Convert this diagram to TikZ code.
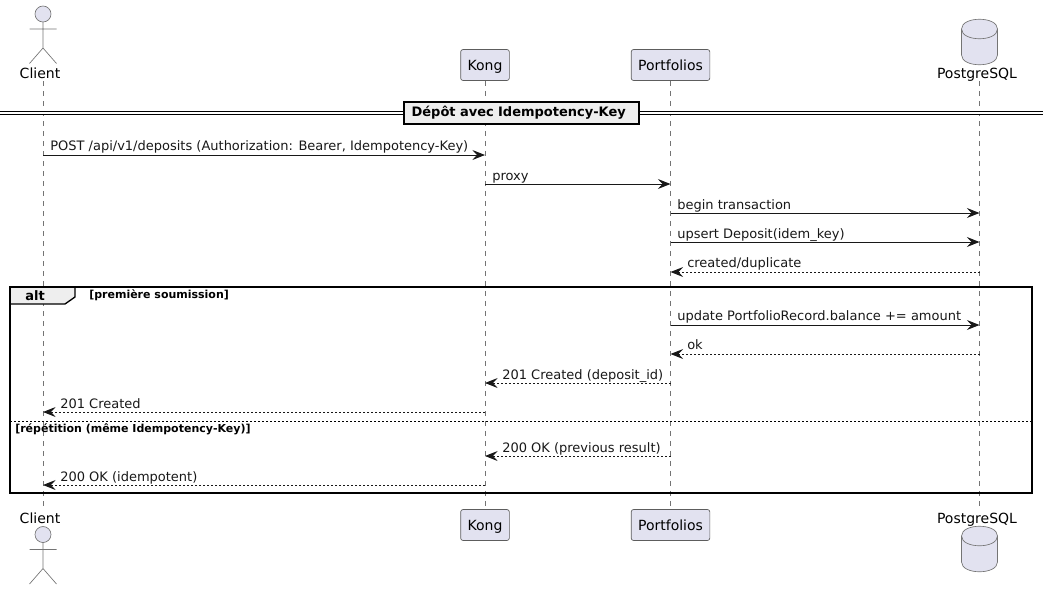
\documentclass[tikz,border=0pt]{standalone}
\usepackage{fontspec}
\setmainfont{DejaVu Sans}
\usetikzlibrary{arrows.meta}
\definecolor{partfill}{HTML}{E2E2F0}
\definecolor{partline}{HTML}{181818}
\definecolor{tabfill}{HTML}{EEEEEE}

\begin{document}
\begin{tikzpicture}[
    x=0.75pt, y=-0.75pt,
    part/.style={draw=partline!70, line width=0.5pt, fill=partfill, rectangle, rounded corners=1.8pt, text height=15.4pt, text depth=7.85pt, inner ysep=0pt, inner xsep=0pt, font=\fontsize{10.5}{12}\selectfont},
    nametext/.style={anchor=base, inner sep=0pt, font=\fontsize{10.5}{12}\selectfont},
    life/.style={draw=partline!60, line width=0.5pt, dash pattern=on 3.75pt off 3.75pt},
    msg/.style={-{Stealth[length=9.5pt, width=7.5pt, inset=3.5pt]}, draw=partline, line width=0.75pt},
    reply/.style={-{Stealth[length=9.5pt, width=7.5pt, inset=3.5pt]}, draw=partline, line width=0.75pt, dash pattern=on 1.5pt off 1.5pt},
    msgtext/.style={anchor=base west, inner sep=0pt, text=partline, font=\fontsize{9.75}{12}\selectfont},
    cond/.style={anchor=base west, inner sep=0pt, font=\fontsize{8.25}{10}\selectfont\bfseries},
    frameline/.style={draw=black, line width=1.5pt},
    actorfig/.pic={
        \draw[draw=partline!60, fill=partfill, line width=0.5pt] (0,14) circle[radius=8];
        \draw[draw=partline!60, line width=0.5pt] (0,22) -- (0,48) (-13.5,29) -- (13.5,29) (-13.5,63.5) -- (0,48) -- (13.5,63.5);
    },
    dbfig/.pic={
        \draw[draw=partline!60, fill=partfill, line width=0.5pt] (-18,29) .. controls (-18,16) and (18,16) .. (18,29) -- (18,55) .. controls (18,68) and (-18,68) .. (-18,55) -- cycle;
        \draw[draw=partline!60, line width=0.5pt] (-18,29) .. controls (-18,42) and (18,42) .. (18,29);
    }
]
    \useasboundingbox (0,0) rectangle (1048,590);

    \coordinate (clientA) at (43,81);
    \coordinate (clientB) at (43,507);
    \coordinate (dbA) at (979.5,81);
    \coordinate (dbB) at (979.5,507);

    \node[part, minimum width=36.5pt] (kongTop) at (485,65) {Kong};
    \node[part, minimum width=36.5pt] (kongBot) at (485,525) {Kong};
    \node[part, minimum width=59pt] (portTop) at (670.5,65) {Portfolios};
    \node[part, minimum width=59pt] (portBot) at (670.5,525) {Portfolios};

    \draw[life] (clientA) -- (clientB);
    \draw[life] (kongTop) -- (kongBot);
    \draw[life] (portTop) -- (portBot);
    \draw[life] (dbA) -- (dbB);

    \pic at (43,0) {actorfig};
    \pic at (43,520.5) {actorfig};
    \pic at (979.5,0) {dbfig};
    \pic at (979.5,507) {dbfig};

    \node[nametext] (clientTop) at (40,78.5) {Client};
    \node[nametext] (clientBot) at (40,523.5) {Client};
    \node[nametext] (dbTop) at (977,78.5) {PostgreSQL};
    \node[nametext] (dbBot) at (977,523.5) {PostgreSQL};

    % separator
    \coordinate (sepL) at (0,113);
    \coordinate (sepR) at (1043,113);
    \draw[draw=black, line width=0.9pt, double=white, double distance=1.2pt] (sepL) -- (sepR);
    \node[draw=black, line width=1.5pt, fill=tabfill, text width=164.8pt, align=left, inner xsep=5.6pt, inner ysep=0pt, text height=11.3pt, text depth=5.7pt, font=\fontsize{9.75}{12}\selectfont\bfseries] (sepBox) at (521.5,113) {Dépôt avec Idempotency-Key};

    % messages
    \coordinate (m1) at (0,155);
    \coordinate (m2) at (0,184);
    \coordinate (m3) at (0,213);
    \coordinate (m4) at (0,242);
    \coordinate (m5) at (0,272);
    \coordinate (m6) at (0,325);
    \coordinate (m7) at (0,354);
    \coordinate (m8) at (0,383);
    \coordinate (m9) at (0,412);
    \coordinate (m10) at (0,456);
    \coordinate (m11) at (0,485);

    \draw[msg] (clientA |- m1) -- (kongTop |- m1);
    \draw[msg] (kongTop |- m2) -- (portTop |- m2);
    \draw[msg] (portTop |- m3) -- (dbA |- m3);
    \draw[msg] (portTop |- m4) -- (dbA |- m4);
    \draw[reply] (dbA |- m5) -- (portTop |- m5);
    \draw[msg] (portTop |- m6) -- (dbA |- m6);
    \draw[reply] (dbA |- m7) -- (portTop |- m7);
    \draw[reply] (portTop |- m8) -- (kongTop |- m8);
    \draw[reply] (kongTop |- m9) -- (clientA |- m9);
    \draw[reply] (portTop |- m10) -- (kongTop |- m10);
    \draw[reply] (kongTop |- m11) -- (clientA |- m11);

    \node[msgtext] (t1) at (50,150) {POST /api/v1/deposits (Authorization: Bearer, Idempotency-Key)};
    \node[msgtext] (t2) at (492,180) {proxy};
    \node[msgtext] (t3) at (677,209) {begin transaction};
    \node[msgtext] (t4) at (677,238) {upsert Deposit(idem\_key)};
    \node[msgtext] (t5) at (687,267) {created/duplicate};
    \node[msgtext] (t6) at (677,320) {update PortfolioRecord.balance += amount};
    \node[msgtext] (t7) at (687,349) {ok};
    \node[msgtext] (t8) at (502,379) {201 Created (deposit\_id)};
    \node[msgtext] (t9) at (60,408) {201 Created};
    \node[msgtext] (t10) at (502,452) {200 OK (previous result)};
    \node[msgtext] (t11) at (60,481) {200 OK (idempotent)};

    % alt frame
    \draw[frameline, fill=tabfill, line width=1pt] (10,287) -- (75,287) -- (75,297) -- (65,304) -- (10,304) -- cycle;
    \draw[frameline] (10,287) rectangle (1032,493);
    \draw[draw=black, line width=0.75pt, dash pattern=on 1.5pt off 1.5pt] (10,421) -- (1032,421);
    \node[anchor=base, inner sep=0pt, font=\fontsize{9.75}{12}\selectfont\bfseries] (altTag) at (35,300) {alt};
    \node[cond] (altFirst) at (89,298.5) {[première soumission]};
    \node[cond] (altSecond) at (15,432) {[répétition (même Idempotency-Key)]};
\end{tikzpicture}
\end{document}
